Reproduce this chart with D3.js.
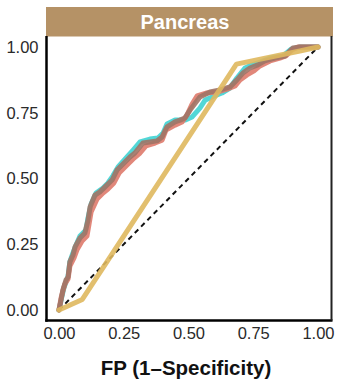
<!DOCTYPE html>
<html><head><meta charset="utf-8">
<script src="https://cdn.jsdelivr.net/npm/d3@7"></script>
<style>body{margin:0;background:#fff}svg{display:block}</style>
</head><body>
<svg id="c" width="340" height="381"></svg>
<script>
const panelTitle = "Pancreas";
const xTitle = "FP (1\u2013Specificity)";
const tickValues = [0, 0.25, 0.5, 0.75, 1];

const cyanFPR = [0,0.008,0.019,0.035,0.042,0.054,0.066,0.081,0.104,0.112,0.124,0.143,0.170,0.189,0.208,0.228,0.259,0.286,0.313,0.351,0.382,0.402,0.417,0.448,0.486,0.514,0.544,0.564,0.591,0.629,0.660,0.687,0.718,0.745,0.776,0.815,0.865,0.896,0.931,1];
const cyanTPR = [0,0.038,0.084,0.129,0.183,0.217,0.247,0.281,0.304,0.350,0.403,0.445,0.464,0.483,0.510,0.544,0.578,0.608,0.639,0.650,0.654,0.673,0.707,0.722,0.722,0.734,0.768,0.798,0.810,0.825,0.844,0.882,0.920,0.932,0.943,0.958,0.966,0.992,1,1];

const salmonFPR = [0,0.008,0.015,0.023,0.035,0.042,0.058,0.069,0.089,0.108,0.116,0.124,0.147,0.170,0.189,0.212,0.232,0.263,0.290,0.313,0.336,0.371,0.398,0.413,0.448,0.475,0.494,0.514,0.533,0.568,0.614,0.649,0.680,0.699,0.726,0.753,0.776,0.815,0.853,0.876,0.900,0.923,1];
const salmonTPR = [0,0.046,0.072,0.099,0.118,0.167,0.198,0.228,0.262,0.281,0.327,0.373,0.422,0.445,0.460,0.483,0.521,0.551,0.578,0.597,0.624,0.635,0.646,0.684,0.703,0.715,0.741,0.783,0.814,0.825,0.829,0.840,0.852,0.875,0.894,0.909,0.928,0.947,0.958,0.966,0.989,1,1];

const brownFPR = [0,0.008,0.015,0.027,0.035,0.042,0.054,0.062,0.081,0.100,0.112,0.120,0.139,0.158,0.178,0.205,0.224,0.255,0.274,0.293,0.324,0.351,0.378,0.398,0.417,0.448,0.467,0.486,0.506,0.544,0.583,0.622,0.660,0.687,0.710,0.737,0.768,0.795,0.834,0.873,0.903,0.931,1];
const brownTPR = [0,0.038,0.076,0.114,0.125,0.183,0.209,0.240,0.274,0.293,0.342,0.392,0.437,0.449,0.468,0.494,0.532,0.563,0.582,0.597,0.635,0.639,0.643,0.658,0.696,0.715,0.722,0.730,0.760,0.810,0.829,0.837,0.848,0.875,0.901,0.920,0.932,0.947,0.958,0.966,0.996,1,1];

const goldFPR = [0,0.09,0.685,0.93,1];
const goldTPR = [0,0.04,0.935,0.985,1];

const series = [
  {fpr: cyanFPR, tpr: cyanTPR, color: "#3fd3d3"},
  {fpr: salmonFPR, tpr: salmonTPR, color: "#de7a6b"},
  {fpr: brownFPR, tpr: brownTPR, color: "#a07466"},
  {fpr: goldFPR, tpr: goldTPR, color: "#dfb85e"}
];

const svg = d3.select("#c");
const panel = {left: 46.5, right: 331.5, top: 36, bottom: 320.5};
const x = d3.scaleLinear().domain([0, 1]).range([59, 318]);
const y = d3.scaleLinear().domain([0, 1]).range([310, 47]);
const font = "Liberation Sans, Arial, Helvetica, sans-serif";

// strip
svg.append("rect").attr("x", 46).attr("y", 7).attr("width", 287).attr("height", 29.5).attr("fill", "#b59266");
svg.append("text").attr("x", 185).attr("y", 29).attr("text-anchor", "middle")
  .attr("font-family", font).attr("font-weight", "bold")
  .attr("font-size", 20).attr("fill", "#fff").text(panelTitle);

// diagonal
svg.append("line").attr("x1", x(0)).attr("y1", y(0)).attr("x2", x(1)).attr("y2", y(1))
  .attr("stroke", "#111").attr("stroke-width", 2).attr("stroke-dasharray", "5,4");

const line = d3.line().x(d => x(d[0])).y(d => y(d[1]));
series.forEach(s => {
  const pts = s.fpr.map((v, i) => [v, s.tpr[i]]);
  svg.append("path").attr("d", line(pts)).attr("fill", "none")
    .attr("stroke", s.color).attr("stroke-width", 5).attr("stroke-opacity", 0.9)
    .attr("stroke-linejoin", "round").attr("stroke-linecap", "round");
});

// axes
const xa = svg.append("g").attr("transform", `translate(0,${panel.bottom})`)
  .call(d3.axisBottom(x).tickValues(tickValues).tickFormat(d3.format(".2f")).tickSize(0).tickPadding(7));
xa.select(".domain").remove();
xa.selectAll("text").attr("font-family", font).attr("font-size", 16.5).attr("fill", "#2a2a2a");
const ya = svg.append("g").attr("transform", `translate(${panel.left - 1},0)`)
  .call(d3.axisLeft(y).tickValues(tickValues).tickFormat(d3.format(".2f")).tickSize(0).tickPadding(7));
ya.select(".domain").remove();
ya.selectAll("text").attr("font-family", font).attr("font-size", 16.5).attr("fill", "#2a2a2a");

// panel borders
svg.append("line").attr("x1", panel.left).attr("x2", panel.left).attr("y1", 36).attr("y2", panel.bottom + 1.25)
  .attr("stroke", "#000").attr("stroke-width", 2.5);
svg.append("line").attr("x1", panel.left - 1.25).attr("x2", panel.right + 1).attr("y1", panel.bottom).attr("y2", panel.bottom)
  .attr("stroke", "#000").attr("stroke-width", 2.5);
svg.append("line").attr("x1", panel.right).attr("x2", panel.right).attr("y1", 36).attr("y2", panel.bottom)
  .attr("stroke", "#222").attr("stroke-width", 2);

svg.append("text").attr("x", 186).attr("y", 375).attr("text-anchor", "middle")
  .attr("font-family", font).attr("font-weight", "bold").attr("font-size", 20.5).attr("fill", "#111").text(xTitle);
</script>
</body></html>
